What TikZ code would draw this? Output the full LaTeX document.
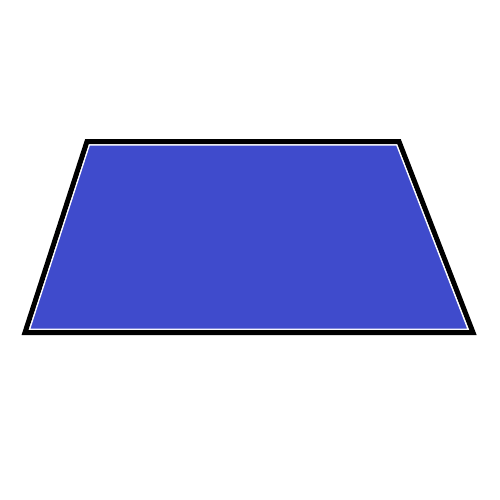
\documentclass[tikz,border=0pt]{standalone}
\definecolor{trapblue}{RGB}{63,75,204}
\begin{document}
\begin{tikzpicture}[x=1pt,y=-1pt,
  outline/.style={draw=black,line width=5pt,line join=miter},
  inner/.style={fill=trapblue,draw=white,line width=1pt}]
\useasboundingbox (0,0) rectangle (500,500);
\fill[white] (0,0) rectangle (500,500);
\draw[outline] (87,141.5) -- (399,141.5) -- (473,332.5) -- (25,332.5) -- cycle;
\draw[inner] (89.5,145) -- (396.6,145) -- (467.8,329) -- (29.8,329) -- cycle;
\end{tikzpicture}
\end{document}
